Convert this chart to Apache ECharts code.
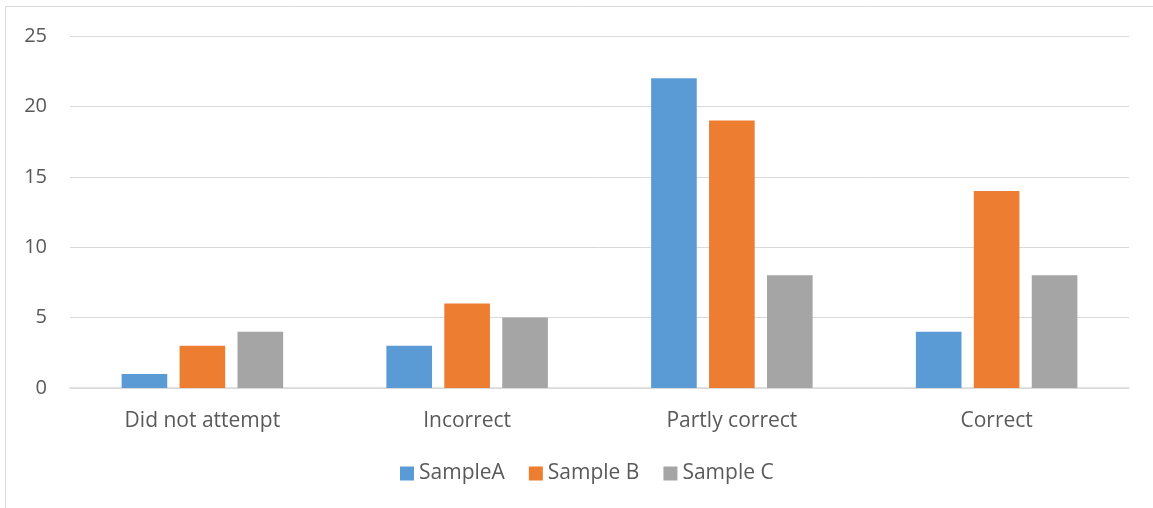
<!DOCTYPE html>
<html>
<head>
<meta charset="utf-8">
<script src="https://cdn.jsdelivr.net/npm/echarts@6/dist/echarts.min.js"></script>
<style>html,body{margin:0;padding:0;background:#fff}#c{width:1153px;height:508px}</style>
</head>
<body>
<div id="c"></div>
<script>
const categories = ['Did not attempt', 'Incorrect', 'Partly correct', 'Correct'];
const sampleA = [1, 3, 22, 4];
const sampleB = [3, 6, 19, 14];
const sampleC = [4, 5, 8, 8];
const seriesNames = ['SampleA', 'Sample B', 'Sample C'];
const colors = ['#5B9BD5', '#ED7D31', '#A5A5A5'];

const chart = echarts.init(document.getElementById('c'));
const font = '"Open Sans", sans-serif';
chart.setOption({
  animation: false,
  textStyle: { fontFamily: font },
  graphic: [{
    type: 'rect', silent: true,
    shape: { x: 5.5, y: 6.5, width: 1300, height: 700 },
    style: { fill: 'none', stroke: '#d9d9d9', lineWidth: 1 }
  }],
  grid: { left: 70, right: 24, top: 36, bottom: 120, containLabel: false },
  legend: {
    bottom: 19, left: 395,
    itemWidth: 14, itemHeight: 14, itemGap: 24,
    icon: 'rect',
    textStyle: { color: '#595959', fontSize: 21, fontFamily: font },
    data: seriesNames
  },
  xAxis: {
    type: 'category', data: categories,
    axisLine: { lineStyle: { color: '#d9d9d9', width: 1.5 } },
    axisTick: { show: false },
    axisLabel: { color: '#595959', fontSize: 21, margin: 23, fontFamily: font }
  },
  yAxis: {
    type: 'value', min: 0, max: 25, interval: 5,
    axisLine: { show: false }, axisTick: { show: false },
    splitLine: { lineStyle: { color: '#d9d9d9', width: 1 } },
    axisLabel: { color: '#595959', fontSize: 20, margin: 23, fontFamily: font }
  },
  series: [
    { name: seriesNames[0], type: 'bar', data: sampleA, itemStyle: { color: colors[0] }, barGap: '27%', barCategoryGap: '39%' },
    { name: seriesNames[1], type: 'bar', data: sampleB, itemStyle: { color: colors[1] } },
    { name: seriesNames[2], type: 'bar', data: sampleC, itemStyle: { color: colors[2] } }
  ]
});
</script>
</body>
</html>
